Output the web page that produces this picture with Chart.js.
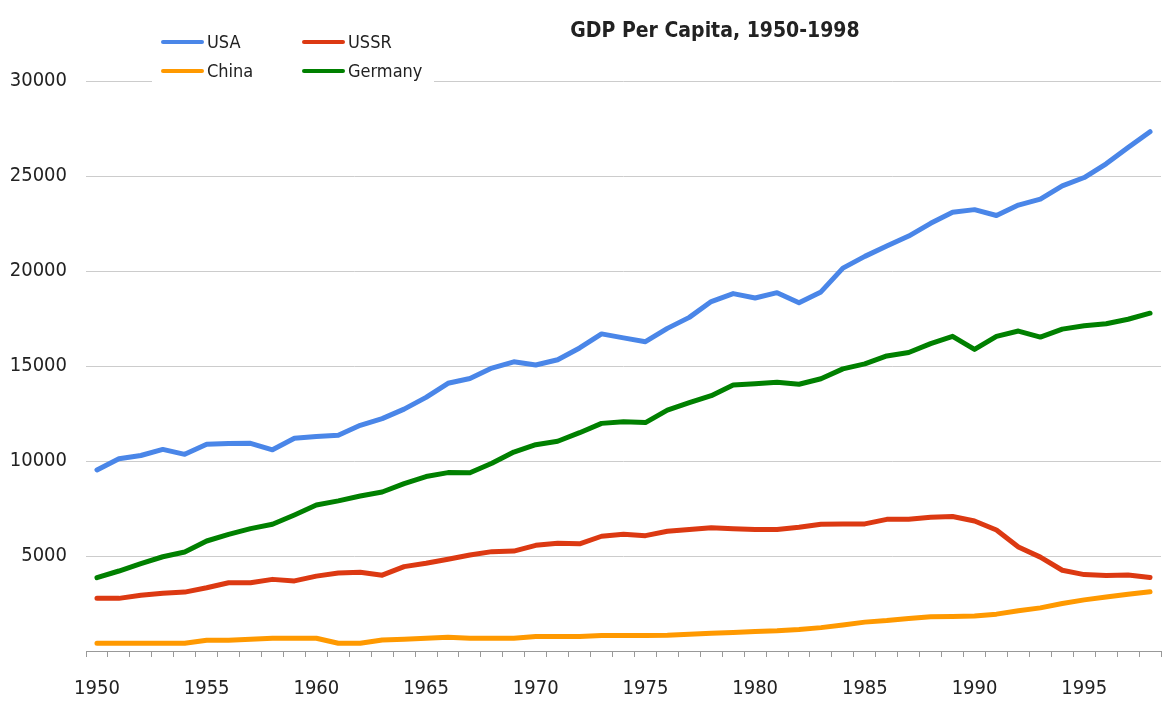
<!DOCTYPE html>
<html>
<head>
<meta charset="utf-8">
<title>GDP Per Capita, 1950-1998</title>
<script src="https://cdn.jsdelivr.net/npm/chart.js@4.4.1/dist/chart.umd.min.js"></script>
<style>
  html, body { margin: 0; padding: 0; background: #fff; }
  #wrap { width: 1162px; height: 709px; }
</style>
</head>
<body>
<div id="wrap"><canvas id="gdpChart"></canvas></div>
<script>
// Data (1990 intl. dollars)
const years = [
  1950, 1951, 1952, 1953, 1954, 1955, 1956, 1957, 1958, 1959,
  1960, 1961, 1962, 1963, 1964, 1965, 1966, 1967, 1968, 1969,
  1970, 1971, 1972, 1973, 1974, 1975, 1976, 1977, 1978, 1979,
  1980, 1981, 1982, 1983, 1984, 1985, 1986, 1987, 1988, 1989,
  1990, 1991, 1992, 1993, 1994, 1995, 1996, 1997, 1998,
];
const usa = [
  9530, 10120, 10290, 10610, 10350, 10880, 10920, 10930, 10590, 11200,
  11290, 11360, 11880, 12230, 12730, 13350, 14090, 14340, 14890, 15220,
  15050, 15330, 15950, 16690, 16480, 16280, 16980, 17560, 18390, 18810,
  18580, 18860, 18330, 18900, 20150, 20770, 21320, 21840, 22510, 23090,
  23230, 22920, 23470, 23780, 24480, 24920, 25640, 26500, 27330,
];
const ussr = [
  2770, 2770, 2930, 3040, 3100, 3330, 3590, 3590, 3770, 3690,
  3940, 4100, 4140, 3990, 4440, 4620, 4830, 5050, 5230, 5260,
  5560, 5670, 5640, 6040, 6140, 6070, 6300, 6400, 6490, 6440,
  6400, 6400, 6510, 6670, 6680, 6690, 6930, 6930, 7040, 7080,
  6840, 6370, 5470, 4940, 4250, 4020, 3970, 4000, 3870,
];
const china = [
  410, 410, 410, 410, 410, 570, 570, 620, 670, 670,
  670, 410, 410, 580, 620, 670, 720, 670, 670, 670,
  760, 760, 760, 810, 810, 810, 830, 880, 930, 970,
  1020, 1060, 1130, 1230, 1370, 1520, 1600, 1710, 1800, 1810,
  1840, 1940, 2120, 2270, 2500, 2690, 2840, 2990, 3120,
];
const germany = [
  3860, 4210, 4600, 4960, 5210, 5790, 6140, 6440, 6670, 7160,
  7680, 7900, 8160, 8370, 8810, 9180, 9390, 9380, 9880, 10470,
  10860, 11040, 11490, 11980, 12070, 12020, 12680, 13070, 13440, 14000,
  14070, 14140, 14040, 14330, 14850, 15110, 15530, 15710, 16180, 16560,
  15870, 16560, 16840, 16520, 16940, 17120, 17220, 17460, 17780,
];
const yTicks = [0, 5000, 10000, 15000, 20000, 25000, 30000];

const FONT = "'DejaVu Sans Condensed', 'DejaVu Sans', sans-serif";
const TEXT = '#222222';

function series(label, values, color) {
  return {
    label: label,
    data: values,
    borderColor: color,
    backgroundColor: color,
    borderWidth: 5,
    borderCapStyle: 'round',
    borderJoinStyle: 'round',
    pointRadius: 0,
    tension: 0,
    fill: false,
  };
}

// Title and two-column legend drawn by hand (placed like the original)
const headerPlugin = {
  id: 'header',
  afterDraw(chart) {
    const ctx = chart.ctx;
    ctx.save();
    ctx.fillStyle = '#ffffff';
    ctx.fillRect(152, 22, 282, 66);

    ctx.font = '18px ' + FONT;
    ctx.textBaseline = 'middle';
    ctx.textAlign = 'left';
    chart.data.datasets.forEach((ds, i) => {
      const x = 161 + (i % 2) * 141;
      const y = 42 + Math.floor(i / 2) * 29;
      ctx.strokeStyle = ds.borderColor;
      ctx.lineWidth = 4;
      ctx.lineCap = 'round';
      ctx.beginPath();
      ctx.moveTo(x + 2, y);
      ctx.lineTo(x + 41, y);
      ctx.stroke();
      ctx.fillStyle = TEXT;
      ctx.fillText(ds.label, x + 46, y + 1);
    });

    ctx.font = 'bold 21px ' + FONT;
    ctx.textAlign = 'center';
    ctx.fillStyle = TEXT;
    ctx.fillText('GDP Per Capita, 1950-1998', 715, 32);
    ctx.restore();
  },
};

const ctx = document.getElementById('gdpChart').getContext('2d');
const gdpChart = new Chart(ctx, {
  type: 'line',
  data: {
    labels: years,
    datasets: [
      series('USA', usa, '#4a86e8'),
      series('USSR', ussr, '#dc3912'),
      series('China', china, '#ff9900'),
      series('Germany', germany, '#008000'),
    ],
  },
  options: {
    responsive: true,
    maintainAspectRatio: false,
    animation: false,
    layout: {
      padding: { top: 81, right: 1, bottom: 0, left: 0 },
    },
    plugins: {
      legend: { display: false },
      title: { display: false },
      tooltip: { enabled: false },
    },
    scales: {
      x: {
        type: 'category',
        offset: true,
        afterFit: (scale) => {
          scale.height = 58;
          scale.paddingLeft = 0;
          scale.paddingRight = 0;
        },
        grid: {
          offset: true,
          drawOnChartArea: false,
          drawTicks: true,
          tickLength: 6,
          color: '#999999',
        },
        border: { display: true, color: '#999999', width: 1 },
        ticks: {
          autoSkip: false,
          maxRotation: 0,
          padding: 20,
          color: TEXT,
          font: { family: FONT, size: 20 },
          callback: function (value) {
            const yr = years[value];
            return yr % 5 === 0 ? String(yr) : '';
          },
        },
      },
      y: {
        min: 0,
        max: 30000,
        afterBuildTicks: (scale) => {
          scale.ticks = yTicks.map((v) => ({ value: v }));
        },
        afterFit: (scale) => {
          scale.width = 86;
        },
        grid: {
          color: '#cccccc',
          drawTicks: false,
        },
        border: { display: false },
        ticks: {
          padding: 19,
          color: TEXT,
          font: { family: FONT, size: 20 },
          callback: function (value) {
            return value === 0 ? '' : String(value);
          },
        },
      },
    },
  },
  plugins: [headerPlugin],
});
</script>
</body>
</html>
